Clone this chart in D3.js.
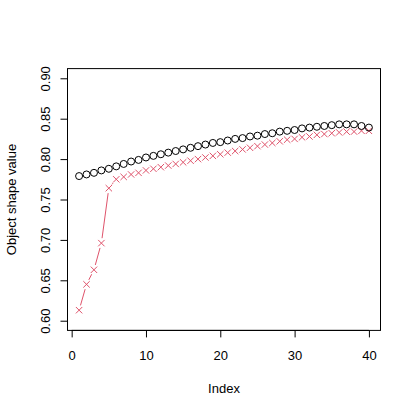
<!DOCTYPE html>
<html><head><meta charset="utf-8">
<script src="https://cdn.jsdelivr.net/npm/d3@7"></script>
<style>body{margin:0;background:#fff}svg{display:block}</style>
</head><body>
<script>
const indexValues = d3.range(1, 41);
const blackSeries = [0.779,0.781,0.783,0.786,0.788,0.791,0.794,0.797,0.799,0.802,
  0.804,0.806,0.808,0.810,0.812,0.814,0.816,0.818,0.820,0.821,
  0.823,0.825,0.826,0.828,0.829,0.831,0.832,0.834,0.835,0.836,
  0.838,0.839,0.840,0.841,0.842,0.843,0.843,0.843,0.841,0.839];
const redSeries = [0.613,0.645,0.663,0.696,0.764,0.775,0.778,0.781,0.783,0.786,
  0.788,0.790,0.792,0.794,0.796,0.798,0.800,0.802,0.804,0.806,
  0.808,0.810,0.812,0.814,0.816,0.818,0.820,0.822,0.824,0.825,
  0.827,0.828,0.830,0.831,0.832,0.833,0.834,0.834,0.835,0.835];
const xTicks = [0,10,20,30,40];
const yTicks = [0.60,0.65,0.70,0.75,0.80,0.85,0.90];

const W = 415, H = 415;
const pL = 67.5, pR = 380.5, pT = 68.6, pB = 330.4;
const font = "'Liberation Sans', Arial, sans-serif";
const fs = 13;
const red = "#DF536B";

const svg = d3.select("body").append("svg").attr("width", W).attr("height", H);
svg.append("rect").attr("width", W).attr("height", H).attr("fill", "#fff");

const xr = 39*0.04;
const x = d3.scaleLinear().domain([1 - xr, 40 + xr]).range([pL, pR]);
const y = d3.scaleLinear().domain([0.6 - 0.012, 0.9 + 0.012]).range([pB, pT]);

// box
svg.append("rect").attr("x", pL).attr("y", pT).attr("width", pR-pL).attr("height", pB-pT)
  .attr("fill","none").attr("stroke","#000").attr("stroke-width",1);

// x axis
const xa = svg.append("g").attr("transform", `translate(0,${pB})`)
  .call(d3.axisBottom(x).tickValues(xTicks).tickFormat(d3.format("d")).tickSize(7).tickPadding(13).tickSizeOuter(0));
xa.select(".domain").attr("d", `M${x(0)},0H${x(40)}`);
// y axis
const ya = svg.append("g").attr("transform", `translate(${pL},0)`)
  .call(d3.axisLeft(y).tickValues(yTicks).tickFormat(d3.format(".2f")).tickSize(7).tickSizeOuter(0));
ya.select(".domain").attr("d", `M0,${y(0.6)}V${y(0.9)}`);
ya.selectAll(".tick text").attr("transform", "rotate(-90)").attr("x", 0).attr("y", -17.5)
  .attr("dy", "0em").attr("text-anchor", "middle");
svg.selectAll(".tick text").attr("font-family", font).attr("font-size", fs).attr("fill", "#000");
svg.selectAll(".domain, .tick line").attr("stroke", "#000");

// labels
svg.append("text").attr("x", (pL+pR)/2).attr("y", 392.7).attr("text-anchor","middle")
  .attr("font-family", font).attr("font-size", fs).text("Index");
svg.append("text").attr("transform", `translate(15.5,${(pT+pB)/2}) rotate(-90)`).attr("text-anchor","middle")
  .attr("font-family", font).attr("font-size", fs).text("Object shape value");

// red line with gaps (type "b")
const gap = 5;
const redPts = indexValues.map((d,i)=>[x(d), y(redSeries[i])]);
const segs = [];
for (let i=0;i<redPts.length-1;i++){
  const [x0,y0]=redPts[i],[x1,y1]=redPts[i+1];
  const L=Math.hypot(x1-x0,y1-y0);
  if (L>2*gap){
    const ux=(x1-x0)/L, uy=(y1-y0)/L;
    segs.push([x0+ux*gap,y0+uy*gap,x1-ux*gap,y1-uy*gap]);
  }
}
svg.append("g").selectAll("line").data(segs).join("line")
  .attr("x1",d=>d[0]).attr("y1",d=>d[1]).attr("x2",d=>d[2]).attr("y2",d=>d[3])
  .attr("stroke",red).attr("stroke-width",1);

const s = 3.2;
svg.append("g").selectAll("path").data(indexValues).join("path")
  .attr("d",(d,i)=>{const cx=x(d), cy=y(redSeries[i]);
    return `M${cx-s},${cy-s}L${cx+s},${cy+s}M${cx-s},${cy+s}L${cx+s},${cy-s}`;})
  .attr("stroke",red).attr("stroke-width",1).attr("fill","none");

svg.append("g").selectAll("circle").data(indexValues).join("circle")
  .attr("cx",d=>x(d)).attr("cy",(d,i)=>y(blackSeries[i])).attr("r",3.5)
  .attr("fill","none").attr("stroke","#000").attr("stroke-width",1);
</script>
</body></html>
